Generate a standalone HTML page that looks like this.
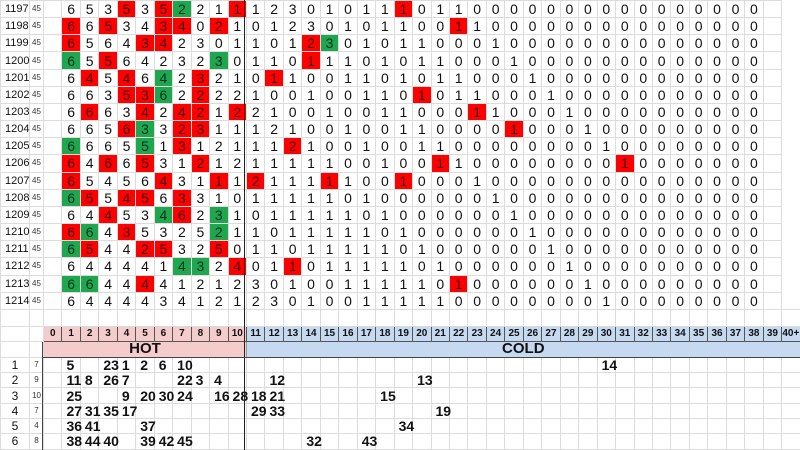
<!DOCTYPE html>
<html><head><meta charset="utf-8">
<style>
body{margin:0;width:800px;height:450px;overflow:hidden;background:#fff;font-family:"Liberation Sans",Arial,sans-serif;position:relative}
table{border-collapse:collapse;table-layout:fixed;width:800px;position:absolute;left:0;top:0}
td{border:1px solid #dcdcdc;padding:0;text-align:center;font-size:14px;color:#111;overflow:visible;white-space:nowrap;line-height:14px}
tr.t td{height:16.17px}
td.l{font-size:11px;text-align:left;padding-left:4px}
td.s{font-size:8px;color:#333}
td.r{background:#f00;color:#400}
td.g{background:#1fa64f;color:#032}
tr.h td{height:14px;font-size:10px;font-weight:bold;border:1px solid #555}
tr.h td.p{background:#f4cccc}
tr.h td.c{background:#c5d9f0}
tr.hh td{height:15px}
td.hot{background:#f4cccc;font-weight:bold;font-size:15px;border:1px solid #999}
td.cold{background:#c5d9f0;font-weight:bold;font-size:15px;border:1px solid #999}
tr.b td{height:14.3px;font-weight:bold;text-align:left;padding-left:4px;font-size:14px}
tr.b td.l{font-weight:normal;font-size:12px;text-align:center;padding-left:0}
tr.b td.s{font-weight:normal;text-align:center;padding-left:0;font-size:8px}
tr.e td{height:16px}
.vl{position:absolute;left:244px;top:0;width:1px;height:450px;background:#222}
.vl2{position:absolute;left:42px;top:342px;width:1px;height:108px;background:#444}
.hl{position:absolute;left:42px;top:357px;width:758px;height:1px;background:#444}
</style></head><body>
<table>
<colgroup><col style="width:29px"><col style="width:14px">
<col span="41" style="width:18.46px"></colgroup>
<tr class="t"><td class="l">1197</td><td class="s">45</td><td></td><td>6</td><td>5</td><td>3</td><td class="r">5</td><td>3</td><td class="r">5</td><td class="g">2</td><td>2</td><td>1</td><td class="r">1</td><td>1</td><td>2</td><td>3</td><td>0</td><td>1</td><td>0</td><td>1</td><td>1</td><td class="r">1</td><td>0</td><td>1</td><td>1</td><td>0</td><td>0</td><td>0</td><td>0</td><td>0</td><td>0</td><td>0</td><td>0</td><td>0</td><td>0</td><td>0</td><td>0</td><td>0</td><td>0</td><td>0</td><td>0</td><td></td></tr>
<tr class="t"><td class="l">1198</td><td class="s">45</td><td></td><td class="r">6</td><td>6</td><td class="r">5</td><td>3</td><td>4</td><td class="r">3</td><td class="r">4</td><td>0</td><td class="r">2</td><td>1</td><td>0</td><td>1</td><td>2</td><td>3</td><td>0</td><td>1</td><td>0</td><td>1</td><td>1</td><td>0</td><td>0</td><td class="r">1</td><td>1</td><td>0</td><td>0</td><td>0</td><td>0</td><td>0</td><td>0</td><td>0</td><td>0</td><td>0</td><td>0</td><td>0</td><td>0</td><td>0</td><td>0</td><td>0</td><td></td></tr>
<tr class="t"><td class="l">1199</td><td class="s">45</td><td></td><td class="r">6</td><td>5</td><td>6</td><td>4</td><td class="r">3</td><td class="r">4</td><td>2</td><td>3</td><td>0</td><td>1</td><td>1</td><td>0</td><td>1</td><td class="r">2</td><td class="g">3</td><td>0</td><td>1</td><td>0</td><td>1</td><td>1</td><td>0</td><td>0</td><td>0</td><td>1</td><td>0</td><td>0</td><td>0</td><td>0</td><td>0</td><td>0</td><td>0</td><td>0</td><td>0</td><td>0</td><td>0</td><td>0</td><td>0</td><td>0</td><td></td></tr>
<tr class="t"><td class="l">1200</td><td class="s">45</td><td></td><td class="g">6</td><td>5</td><td class="r">5</td><td>6</td><td>4</td><td>2</td><td>3</td><td>2</td><td class="g">3</td><td>0</td><td>1</td><td>1</td><td>0</td><td class="r">1</td><td>1</td><td>1</td><td>0</td><td>1</td><td>0</td><td>1</td><td>1</td><td>0</td><td>0</td><td>0</td><td>1</td><td>0</td><td>0</td><td>0</td><td>0</td><td>0</td><td>0</td><td>0</td><td>0</td><td>0</td><td>0</td><td>0</td><td>0</td><td>0</td><td></td></tr>
<tr class="t"><td class="l">1201</td><td class="s">45</td><td></td><td>6</td><td class="r">4</td><td>5</td><td class="r">4</td><td>6</td><td class="g">4</td><td>2</td><td class="r">3</td><td>2</td><td>1</td><td>0</td><td class="r">1</td><td>1</td><td>0</td><td>0</td><td>1</td><td>1</td><td>0</td><td>1</td><td>0</td><td>1</td><td>1</td><td>0</td><td>0</td><td>0</td><td>1</td><td>0</td><td>0</td><td>0</td><td>0</td><td>0</td><td>0</td><td>0</td><td>0</td><td>0</td><td>0</td><td>0</td><td>0</td><td></td></tr>
<tr class="t"><td class="l">1202</td><td class="s">45</td><td></td><td>6</td><td>6</td><td>3</td><td class="r">5</td><td class="r">3</td><td class="g">6</td><td>2</td><td class="r">2</td><td>2</td><td>2</td><td>1</td><td>0</td><td>0</td><td>1</td><td>0</td><td>0</td><td>1</td><td>1</td><td>0</td><td class="r">1</td><td>0</td><td>1</td><td>1</td><td>0</td><td>0</td><td>0</td><td>1</td><td>0</td><td>0</td><td>0</td><td>0</td><td>0</td><td>0</td><td>0</td><td>0</td><td>0</td><td>0</td><td>0</td><td></td></tr>
<tr class="t"><td class="l">1203</td><td class="s">45</td><td></td><td>6</td><td class="r">6</td><td>6</td><td>3</td><td class="r">4</td><td>2</td><td class="r">4</td><td class="r">2</td><td>1</td><td class="r">2</td><td>2</td><td>1</td><td>0</td><td>0</td><td>1</td><td>0</td><td>0</td><td>1</td><td>1</td><td>0</td><td>0</td><td>0</td><td class="r">1</td><td>1</td><td>0</td><td>0</td><td>0</td><td>1</td><td>0</td><td>0</td><td>0</td><td>0</td><td>0</td><td>0</td><td>0</td><td>0</td><td>0</td><td>0</td><td></td></tr>
<tr class="t"><td class="l">1204</td><td class="s">45</td><td></td><td>6</td><td>6</td><td>5</td><td class="r">6</td><td class="g">3</td><td>3</td><td class="r">2</td><td class="r">3</td><td>1</td><td>1</td><td>1</td><td>2</td><td>1</td><td>0</td><td>0</td><td>1</td><td>0</td><td>0</td><td>1</td><td>1</td><td>0</td><td>0</td><td>0</td><td>0</td><td class="r">1</td><td>0</td><td>0</td><td>0</td><td>1</td><td>0</td><td>0</td><td>0</td><td>0</td><td>0</td><td>0</td><td>0</td><td>0</td><td>0</td><td></td></tr>
<tr class="t"><td class="l">1205</td><td class="s">45</td><td></td><td class="g">6</td><td>6</td><td>6</td><td>5</td><td class="g">5</td><td>1</td><td class="r">3</td><td>1</td><td>2</td><td>1</td><td>1</td><td>1</td><td class="r">2</td><td>1</td><td>0</td><td>0</td><td>1</td><td>0</td><td>0</td><td>1</td><td>1</td><td>0</td><td>0</td><td>0</td><td>0</td><td>0</td><td>0</td><td>0</td><td>0</td><td>1</td><td>0</td><td>0</td><td>0</td><td>0</td><td>0</td><td>0</td><td>0</td><td>0</td><td></td></tr>
<tr class="t"><td class="l">1206</td><td class="s">45</td><td></td><td class="r">6</td><td>4</td><td class="r">6</td><td>6</td><td class="r">5</td><td>3</td><td>1</td><td class="r">2</td><td>1</td><td>2</td><td>1</td><td>1</td><td>1</td><td>1</td><td>1</td><td>0</td><td>0</td><td>1</td><td>0</td><td>0</td><td class="r">1</td><td>1</td><td>0</td><td>0</td><td>0</td><td>0</td><td>0</td><td>0</td><td>0</td><td>0</td><td class="r">1</td><td>0</td><td>0</td><td>0</td><td>0</td><td>0</td><td>0</td><td>0</td><td></td></tr>
<tr class="t"><td class="l">1207</td><td class="s">45</td><td></td><td class="r">6</td><td>5</td><td>4</td><td>5</td><td>6</td><td class="r">4</td><td>3</td><td>1</td><td class="r">1</td><td>1</td><td class="r">2</td><td>1</td><td>1</td><td>1</td><td class="r">1</td><td>1</td><td>0</td><td>0</td><td class="r">1</td><td>0</td><td>0</td><td>0</td><td>1</td><td>0</td><td>0</td><td>0</td><td>0</td><td>0</td><td>0</td><td>0</td><td>0</td><td>0</td><td>0</td><td>0</td><td>0</td><td>0</td><td>0</td><td>0</td><td></td></tr>
<tr class="t"><td class="l">1208</td><td class="s">45</td><td></td><td class="g">6</td><td class="r">5</td><td>5</td><td class="r">4</td><td class="r">5</td><td>6</td><td class="r">3</td><td>3</td><td>1</td><td>0</td><td>1</td><td>1</td><td>1</td><td>1</td><td>1</td><td>0</td><td>1</td><td>0</td><td>0</td><td>0</td><td>0</td><td>0</td><td>0</td><td>1</td><td>0</td><td>0</td><td>0</td><td>0</td><td>0</td><td>0</td><td>0</td><td>0</td><td>0</td><td>0</td><td>0</td><td>0</td><td>0</td><td>0</td><td></td></tr>
<tr class="t"><td class="l">1209</td><td class="s">45</td><td></td><td>6</td><td>4</td><td class="r">4</td><td>5</td><td>3</td><td class="g">4</td><td class="r">6</td><td>2</td><td class="g">3</td><td>1</td><td>0</td><td>1</td><td>1</td><td>1</td><td>1</td><td>1</td><td>0</td><td>1</td><td>0</td><td>0</td><td>0</td><td>0</td><td>0</td><td>0</td><td>1</td><td>0</td><td>0</td><td>0</td><td>0</td><td>0</td><td>0</td><td>0</td><td>0</td><td>0</td><td>0</td><td>0</td><td>0</td><td>0</td><td></td></tr>
<tr class="t"><td class="l">1210</td><td class="s">45</td><td></td><td class="r">6</td><td class="g">6</td><td>4</td><td class="r">3</td><td>5</td><td>3</td><td>2</td><td>5</td><td class="g">2</td><td>1</td><td>1</td><td>0</td><td>1</td><td>1</td><td>1</td><td>1</td><td>1</td><td>0</td><td>1</td><td>0</td><td>0</td><td>0</td><td>0</td><td>0</td><td>0</td><td>1</td><td>0</td><td>0</td><td>0</td><td>0</td><td>0</td><td>0</td><td>0</td><td>0</td><td>0</td><td>0</td><td>0</td><td>0</td><td></td></tr>
<tr class="t"><td class="l">1211</td><td class="s">45</td><td></td><td class="g">6</td><td class="r">5</td><td>4</td><td>4</td><td class="r">2</td><td class="r">5</td><td>3</td><td>2</td><td class="r">5</td><td>0</td><td>1</td><td>1</td><td>0</td><td>1</td><td>1</td><td>1</td><td>1</td><td>1</td><td>0</td><td>1</td><td>0</td><td>0</td><td>0</td><td>0</td><td>0</td><td>0</td><td>1</td><td>0</td><td>0</td><td>0</td><td>0</td><td>0</td><td>0</td><td>0</td><td>0</td><td>0</td><td>0</td><td>0</td><td></td></tr>
<tr class="t"><td class="l">1212</td><td class="s">45</td><td></td><td>6</td><td>4</td><td>4</td><td>4</td><td>4</td><td>1</td><td class="g">4</td><td class="g">3</td><td>2</td><td class="r">4</td><td>0</td><td>1</td><td class="r">1</td><td>0</td><td>1</td><td>1</td><td>1</td><td>1</td><td>1</td><td>0</td><td>1</td><td>0</td><td>0</td><td>0</td><td>0</td><td>0</td><td>0</td><td>1</td><td>0</td><td>0</td><td>0</td><td>0</td><td>0</td><td>0</td><td>0</td><td>0</td><td>0</td><td>0</td><td></td></tr>
<tr class="t"><td class="l">1213</td><td class="s">45</td><td></td><td class="g">6</td><td class="g">6</td><td>4</td><td>4</td><td class="r">4</td><td>4</td><td>1</td><td>2</td><td>1</td><td>2</td><td>3</td><td>0</td><td>1</td><td>0</td><td>0</td><td>1</td><td>1</td><td>1</td><td>1</td><td>1</td><td>0</td><td class="r">1</td><td>0</td><td>0</td><td>0</td><td>0</td><td>0</td><td>0</td><td>1</td><td>0</td><td>0</td><td>0</td><td>0</td><td>0</td><td>0</td><td>0</td><td>0</td><td>0</td><td></td></tr>
<tr class="t"><td class="l">1214</td><td class="s">45</td><td></td><td>6</td><td>4</td><td>4</td><td>4</td><td>4</td><td>3</td><td>4</td><td>1</td><td>2</td><td>1</td><td>2</td><td>3</td><td>0</td><td>1</td><td>0</td><td>0</td><td>1</td><td>1</td><td>1</td><td>1</td><td>1</td><td>0</td><td>0</td><td>0</td><td>0</td><td>0</td><td>0</td><td>0</td><td>0</td><td>1</td><td>0</td><td>0</td><td>0</td><td>0</td><td>0</td><td>0</td><td>0</td><td>0</td><td></td></tr>
<tr class="e"><td></td><td></td><td></td><td></td><td></td><td></td><td></td><td></td><td></td><td></td><td></td><td></td><td></td><td></td><td></td><td></td><td></td><td></td><td></td><td></td><td></td><td></td><td></td><td></td><td></td><td></td><td></td><td></td><td></td><td></td><td></td><td></td><td></td><td></td><td></td><td></td><td></td><td></td><td></td><td></td><td></td><td></td><td></td></tr>
<tr class="h"><td style="border:1px solid #dcdcdc"></td><td style="border:1px solid #dcdcdc"></td><td class="p">0</td><td class="p">1</td><td class="p">2</td><td class="p">3</td><td class="p">4</td><td class="p">5</td><td class="p">6</td><td class="p">7</td><td class="p">8</td><td class="p">9</td><td class="p">10</td><td class="c">11</td><td class="c">12</td><td class="c">13</td><td class="c">14</td><td class="c">15</td><td class="c">16</td><td class="c">17</td><td class="c">18</td><td class="c">19</td><td class="c">20</td><td class="c">21</td><td class="c">22</td><td class="c">23</td><td class="c">24</td><td class="c">25</td><td class="c">26</td><td class="c">27</td><td class="c">28</td><td class="c">29</td><td class="c">30</td><td class="c">31</td><td class="c">32</td><td class="c">33</td><td class="c">34</td><td class="c">35</td><td class="c">36</td><td class="c">37</td><td class="c">38</td><td class="c">39</td><td class="c">40+</td></tr>
<tr class="hh"><td></td><td></td><td class="hot" colspan="11">HOT</td><td class="cold" colspan="30">COLD</td></tr>
<tr class="b"><td class="l">1</td><td class="s">7</td><td></td><td>5</td><td></td><td>23</td><td>1</td><td>2</td><td>6</td><td>10</td><td></td><td></td><td></td><td></td><td></td><td></td><td></td><td></td><td></td><td></td><td></td><td></td><td></td><td></td><td></td><td></td><td></td><td></td><td></td><td></td><td></td><td></td><td>14</td><td></td><td></td><td></td><td></td><td></td><td></td><td></td><td></td><td></td><td></td></tr>
<tr class="b"><td class="l">2</td><td class="s">9</td><td></td><td>11</td><td>8</td><td>26</td><td>7</td><td></td><td></td><td>22</td><td>3</td><td>4</td><td></td><td></td><td>12</td><td></td><td></td><td></td><td></td><td></td><td></td><td></td><td>13</td><td></td><td></td><td></td><td></td><td></td><td></td><td></td><td></td><td></td><td></td><td></td><td></td><td></td><td></td><td></td><td></td><td></td><td></td><td></td><td></td></tr>
<tr class="b"><td class="l">3</td><td class="s">10</td><td></td><td>25</td><td></td><td></td><td>9</td><td>20</td><td>30</td><td>24</td><td></td><td>16</td><td>28</td><td>18</td><td>21</td><td></td><td></td><td></td><td></td><td></td><td>15</td><td></td><td></td><td></td><td></td><td></td><td></td><td></td><td></td><td></td><td></td><td></td><td></td><td></td><td></td><td></td><td></td><td></td><td></td><td></td><td></td><td></td><td></td></tr>
<tr class="b"><td class="l">4</td><td class="s">7</td><td></td><td>27</td><td>31</td><td>35</td><td>17</td><td></td><td></td><td></td><td></td><td></td><td></td><td>29</td><td>33</td><td></td><td></td><td></td><td></td><td></td><td></td><td></td><td></td><td>19</td><td></td><td></td><td></td><td></td><td></td><td></td><td></td><td></td><td></td><td></td><td></td><td></td><td></td><td></td><td></td><td></td><td></td><td></td><td></td></tr>
<tr class="b"><td class="l">5</td><td class="s">4</td><td></td><td>36</td><td>41</td><td></td><td></td><td>37</td><td></td><td></td><td></td><td></td><td></td><td></td><td></td><td></td><td></td><td></td><td></td><td></td><td></td><td>34</td><td></td><td></td><td></td><td></td><td></td><td></td><td></td><td></td><td></td><td></td><td></td><td></td><td></td><td></td><td></td><td></td><td></td><td></td><td></td><td></td><td></td></tr>
<tr class="b"><td class="l">6</td><td class="s">8</td><td></td><td>38</td><td>44</td><td>40</td><td></td><td>39</td><td>42</td><td>45</td><td></td><td></td><td></td><td></td><td></td><td></td><td>32</td><td></td><td></td><td>43</td><td></td><td></td><td></td><td></td><td></td><td></td><td></td><td></td><td></td><td></td><td></td><td></td><td></td><td></td><td></td><td></td><td></td><td></td><td></td><td></td><td></td><td></td><td></td></tr>
</table>
<div class="vl"></div><div class="vl2"></div><div class="hl"></div>
</body></html>
